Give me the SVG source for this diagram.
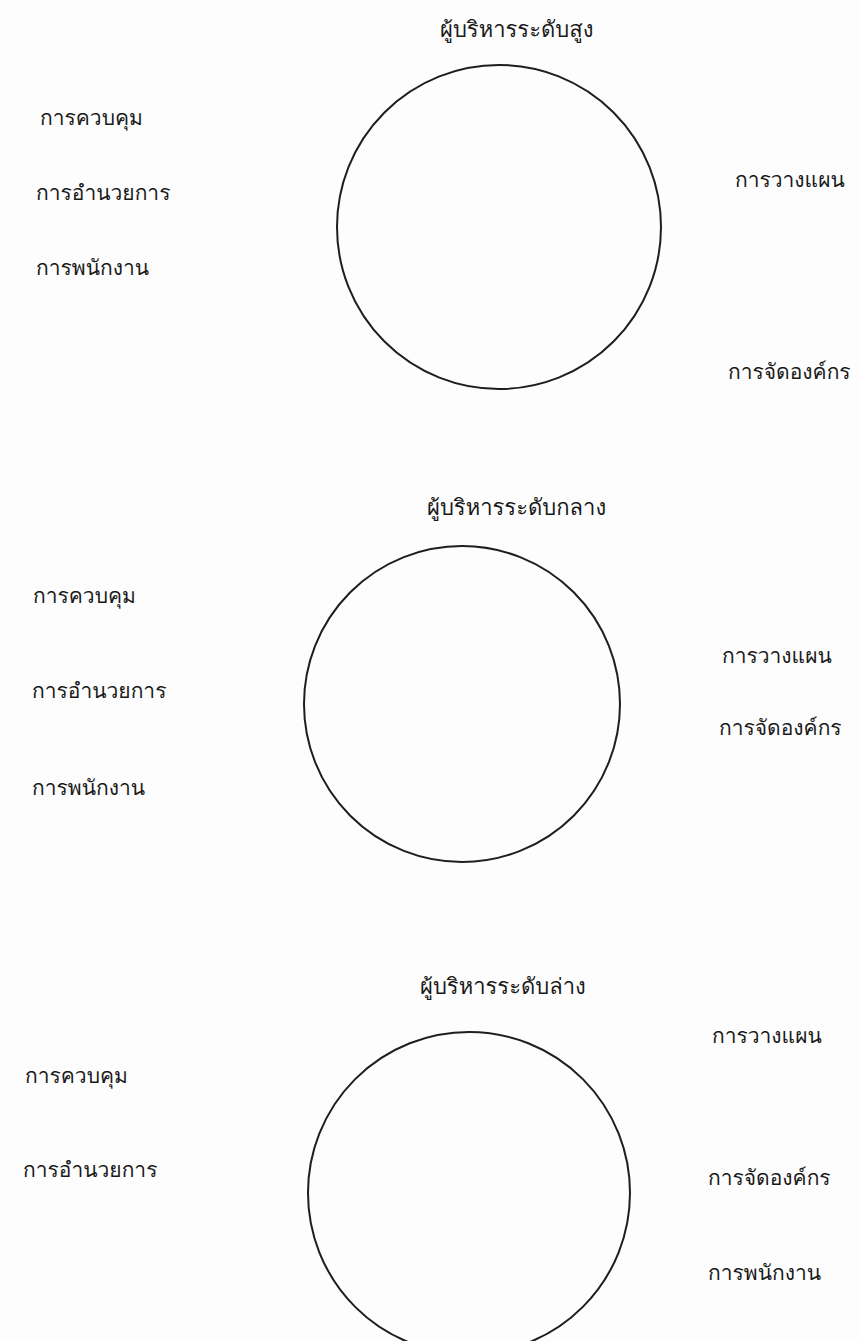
<svg xmlns="http://www.w3.org/2000/svg" width="859" height="1341" viewBox="0 0 859 1341">
<style>
.bg{fill:#fdfdfd}
.c{fill:none;stroke:#1e1e1e;stroke-width:2}
.t{font-family:"Loma","Noto Sans Thai Looped","Garuda","Noto Sans Thai","Noto Sans","DejaVu Sans",sans-serif;font-size:21px;fill:#1a1a1a}
.h{font-size:22px}
</style>
<rect class="bg" x="0" y="0" width="859" height="1341"/>
<g id="top">
  <text class="t h" x="440" y="37">ผู้บริหารระดับสูง</text>
  <circle class="c" cx="499" cy="227" r="162"/>
  <text class="t" x="40" y="125">การควบคุม</text>
  <text class="t" x="36" y="200">การอำนวยการ</text>
  <text class="t" x="36" y="275">การพนักงาน</text>
  <text class="t" x="735" y="187">การวางแผน</text>
  <text class="t" x="728" y="379">การจัดองค์กร</text>
</g>
<g id="middle">
  <text class="t h" x="427" y="515">ผู้บริหารระดับกลาง</text>
  <circle class="c" cx="462" cy="704" r="158"/>
  <text class="t" x="33" y="603">การควบคุม</text>
  <text class="t" x="32" y="698">การอำนวยการ</text>
  <text class="t" x="32" y="795">การพนักงาน</text>
  <text class="t" x="722" y="663">การวางแผน</text>
  <text class="t" x="719" y="735">การจัดองค์กร</text>
</g>
<g id="bottom">
  <text class="t h" x="420" y="994">ผู้บริหารระดับล่าง</text>
  <circle class="c" cx="469" cy="1193" r="161"/>
  <text class="t" x="25" y="1083">การควบคุม</text>
  <text class="t" x="23" y="1177">การอำนวยการ</text>
  <text class="t" x="712" y="1043">การวางแผน</text>
  <text class="t" x="708" y="1185">การจัดองค์กร</text>
  <text class="t" x="708" y="1280">การพนักงาน</text>
</g>
<g id="connectors"></g>
</svg>
